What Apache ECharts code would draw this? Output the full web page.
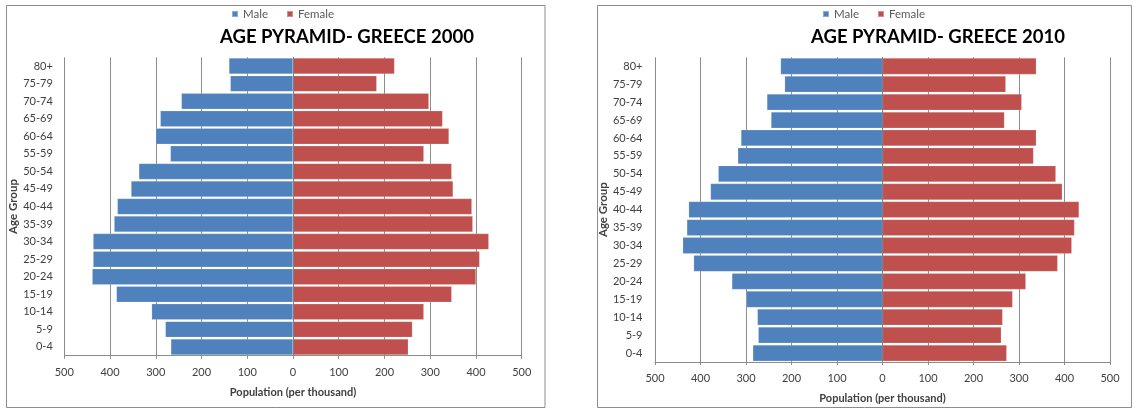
<!DOCTYPE html>
<html>
<head>
<meta charset="utf-8">
<script src="https://cdn.jsdelivr.net/npm/echarts@6/dist/echarts.min.js"></script>
<style>
html,body{margin:0;padding:0;background:#fff;}
#c{width:1133px;height:409px;}
</style>
</head>
<body>
<div id="c"></div>
<script>
// Data (top row first: 80+ ... 0-4)
const ageGroups = ['80+','75-79','70-74','65-69','60-64','55-59','50-54','45-49','40-44','35-39','30-34','25-29','20-24','15-19','10-14','5-9','0-4'];
const male2000   = [140, 137, 244, 290, 300, 268, 337, 354, 384, 391, 437, 437, 439, 386, 309, 279, 267];
const female2000 = [222, 183, 297, 327, 341, 286, 347, 350, 391, 393, 428, 408, 400, 347, 286, 261, 252];
const male2010   = [224, 215, 254, 245, 311, 318, 361, 378, 426, 430, 439, 415, 331, 299, 275, 273, 285];
const female2010 = [338, 271, 306, 268, 338, 332, 381, 395, 432, 422, 416, 385, 315, 286, 264, 261, 273];
const titles = ['AGE PYRAMID- GREECE 2000', 'AGE PYRAMID- GREECE 2010'];
const xName = 'Population (per thousand)';
const yName = 'Age Group';
const seriesNames = ['Male', 'Female'];

const FONT = 'Lato, "Liberation Sans", sans-serif';
const TXT = '#404040';
const GRID = '#8c8c8c';
const MALE_C = '#4F81BD';
const FEMALE_C = '#C0504D';

const chart = echarts.init(document.getElementById('c'), null, {renderer: 'canvas'});

function xAxisDef(gridIndex, margin) {
  return {
    type: 'value', gridIndex: gridIndex, min: -500, max: 500, interval: 100,
    name: xName, nameLocation: 'middle', nameGap: 31,
    nameTextStyle: {fontFamily: FONT, fontSize: 11, fontWeight: 'bold', color: TXT},
    axisLine: {show: true, lineStyle: {color: GRID, width: 1}},
    axisTick: {show: true, length: 3, lineStyle: {color: GRID}},
    axisLabel: {margin: margin, fontFamily: FONT, fontSize: 11, color: TXT,
      formatter: v => String(Math.abs(v))},
    splitLine: {show: true, lineStyle: {color: GRID, width: 1}}
  };
}
function yAxisDef(gridIndex, margin) {
  return {
    type: 'category', gridIndex: gridIndex, data: ageGroups, inverse: true,
    name: yName, nameLocation: 'middle', nameGap: 40, nameRotate: 90,
    nameTextStyle: {fontFamily: FONT, fontSize: 11.5, fontWeight: 'bold', color: TXT},
    axisLine: {show: false}, axisTick: {show: false},
    axisLabel: {margin: margin, fontFamily: FONT, fontSize: 11, color: TXT},
    splitLine: {show: false}
  };
}
function barSeries(name, data, idx, color, sign, withLine) {
  const s = {
    name: name, type: 'bar', xAxisIndex: idx, yAxisIndex: idx, stack: 'pyr' + idx,
    barCategoryGap: '9%',
    data: data.map(v => sign * v),
    itemStyle: {color: color, borderColor: 'rgba(255,255,255,0.35)', borderWidth: 0.5},
    emphasis: {disabled: true}
  };
  if (withLine) {
    s.markLine = {silent: true, symbol: 'none', label: {show: false},
      lineStyle: {color: '#7f7f7f', width: 1, type: 'solid'},
      data: [{xAxis: 0}]};
  }
  return s;
}

const option = {
  animation: false,
  backgroundColor: '#fff',
  title: [
    {text: titles[0], left: 220, top: 28, padding: 0,
     textStyle: {fontFamily: FONT, fontSize: 18.5, fontWeight: 'bold', color: '#000'}},
    {text: titles[1], left: 811, top: 28, padding: 0,
     textStyle: {fontFamily: FONT, fontSize: 18.5, fontWeight: 'bold', color: '#000'}}
  ],
  legend: [
    {data: seriesNames, left: 231, top: 8, padding: 0, icon: 'rect', itemWidth: 6, itemHeight: 6, itemGap: 18,
     textStyle: {fontFamily: FONT, fontSize: 11.5, color: '#595959'}},
    {data: seriesNames, left: 822, top: 8, padding: 0, icon: 'rect', itemWidth: 6, itemHeight: 6, itemGap: 18,
     textStyle: {fontFamily: FONT, fontSize: 11.5, color: '#595959'}}
  ],
  grid: [
    {left: 64.3, top: 57.3, width: 457.4, height: 298.4, containLabel: false},
    {left: 655, top: 57.3, width: 455, height: 306, containLabel: false}
  ],
  xAxis: [xAxisDef(0, 11), xAxisDef(1, 10.5)],
  yAxis: [yAxisDef(0, 11.5), yAxisDef(1, 12.5)],
  series: [
    barSeries('Male', male2000, 0, MALE_C, -1, false),
    barSeries('Female', female2000, 0, FEMALE_C, 1, true),
    barSeries('Male', male2010, 1, MALE_C, -1, false),
    barSeries('Female', female2010, 1, FEMALE_C, 1, true)
  ],
  graphic: [
    {type: 'rect', shape: {x: 6.5, y: 5.5, width: 538.5, height: 402}, silent: true,
     style: {fill: null, stroke: '#8c8c8c', lineWidth: 1}, z: 100},
    {type: 'rect', shape: {x: 597.5, y: 5.5, width: 534, height: 402}, silent: true,
     style: {fill: null, stroke: '#8c8c8c', lineWidth: 1}, z: 100}
  ]
};
chart.setOption(option);
</script>
</body>
</html>
